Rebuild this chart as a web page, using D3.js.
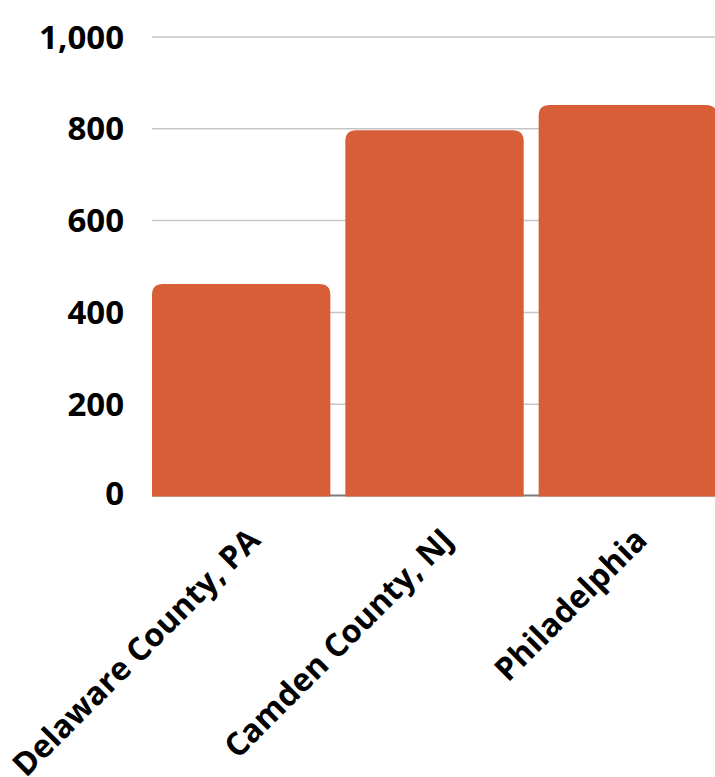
<!DOCTYPE html>
<html>
<head>
<meta charset="utf-8">
<script src="https://cdn.jsdelivr.net/npm/d3@7"></script>
<style>
  body { margin: 0; background: #fff; }
  text { font-family: "Open Sans", sans-serif; font-weight: 700; fill: #000; }
</style>
</head>
<body>
<svg id="chartSVG"></svg>
<script>
// chart data
let categories = ['Delaware County, PA', 'Camden County, NJ', 'Philadelphia'];
let values = [462, 797, 852];
let yTicks = [0, 200, 400, 600, 800, 1000];

let widthSVG = 715;
let heightSVG = 777;

let SVG = d3.select('svg#chartSVG')
            .attr('width', widthSVG)
            .attr('height', heightSVG);

let x = d3.scaleBand()
          .domain(categories)
          .range([152, 717])
          .paddingInner(0.0775)
          .paddingOuter(0);

let y = d3.scaleLinear()
          .domain([0, 1000])
          .range([496, 37]);

// gridlines
SVG.append('g')
   .selectAll('line')
   .data(yTicks.filter(d => d > 0))
   .enter()
   .append('line')
   .attr('x1', 152)
   .attr('x2', widthSVG)
   .attr('y1', d => y(d))
   .attr('y2', d => y(d))
   .style('stroke', '#c6c6c6')
   .style('stroke-width', 1.5);

// baseline
SVG.append('line')
   .attr('x1', 152)
   .attr('x2', widthSVG)
   .attr('y1', y(0) - 0.5)
   .attr('y2', y(0) - 0.5)
   .style('stroke', '#7a7a7a')
   .style('stroke-width', 2);

// y tick labels
let fmt = d3.format(',');
SVG.append('g')
   .selectAll('text')
   .data(yTicks)
   .enter()
   .append('text')
   .attr('x', 124)
   .attr('y', d => y(d) - (d === 0 ? 3 : 0))
   .attr('dy', '0.35em')
   .style('text-anchor', 'end')
   .style('font-size', '33px')
   .text(d => fmt(d));

// bars with rounded top corners
let r = 11;
function barPath(d, i) {
  let x0 = x(categories[i]);
  let x1 = x0 + x.bandwidth();
  let yt = y(d);
  let yb = y(0) + 0.5;
  return `M${x0},${yb} L${x0},${yt + r} Q${x0},${yt} ${x0 + r},${yt} ` +
         `L${x1 - r},${yt} Q${x1},${yt} ${x1},${yt + r} L${x1},${yb} Z`;
}

SVG.append('g')
   .selectAll('path')
   .data(values)
   .enter()
   .append('path')
   .attr('d', barPath)
   .style('fill', '#d75e37');

// rotated category labels
SVG.append('g')
   .selectAll('text')
   .data(categories)
   .enter()
   .append('text')
   .attr('transform', d => `translate(${x(d) + x.bandwidth() / 2 + 21}, 542) rotate(-45)`)
   .style('text-anchor', 'end')
   .style('font-size', '32px')
   .text(d => d);
</script>
</body>
</html>
